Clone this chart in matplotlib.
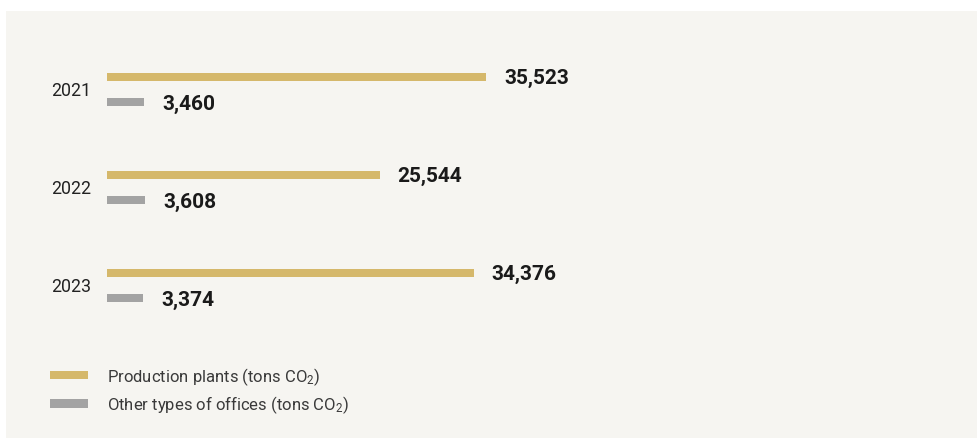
import matplotlib
matplotlib.use("Agg")
import matplotlib.pyplot as plt
from matplotlib.patches import Rectangle, Patch

years = ["2021", "2022", "2023"]
production = [35523, 25544, 34376]
offices = [3460, 3608, 3374]
legend_labels = ["Production plants (tons CO$_2$)", "Other types of offices (tons CO$_2$)"]

GOLD = "#d5b86b"
GRAY = "#a3a3a3"
BG = "#f6f5f1"

plt.rcParams["font.family"] = ["Roboto", "DejaVu Sans"]
plt.rcParams["mathtext.fontset"] = "custom"
plt.rcParams["mathtext.rm"] = "Roboto"
plt.rcParams["mathtext.default"] = "rm"

W, H = 978, 439
fig = plt.figure(figsize=(W / 100, H / 100), dpi=100)
fig.patch.set_facecolor("white")
fig.patches.append(Rectangle((6 / W, 0), 1 - 6 / W, 1 - 12 / H, transform=fig.transFigure,
                             facecolor=BG, edgecolor="none", zorder=-5))

x0 = 107
ax = fig.add_axes([x0 / W, 0, 1 - x0 / W, 1])
ax.set_zorder(2)
ax.set_facecolor("none")
scale = 379 / 35523  # px per unit
ax.set_xlim(0, (W - x0) / scale)
step = 98.0
c0 = 90.5
ax.set_ylim((H - c0) / step, -c0 / step)
ax.axis("off")

off = 12.2 / step
idx = list(range(len(years)))
ax.barh([i - off for i in idx], production, height=8 / step, color=GOLD, left=0)
ax.barh([i + off for i in idx], offices, height=8 / step, color=GRAY, left=0)

pad = 18 / scale
for i in idx:
    ax.text(production[i] + pad, i - off + 0.5 / step, f"{production[i]:,}", ha="left", va="center",
            fontsize=15, fontweight="bold", color="#1a1a1a")
    ax.text(offices[i] + pad, i + off + 1.5 / step, f"{offices[i]:,}", ha="left", va="center",
            fontsize=15, fontweight="bold", color="#1a1a1a")
    ax.text(-16 / scale, i + 0.5 / step, years[i], ha="right", va="center",
            fontsize=12.8, color="#222222")

handles = [Patch(facecolor=GOLD, edgecolor="none"), Patch(facecolor=GRAY, edgecolor="none")]
leg = fig.legend(handles, legend_labels, loc="upper left",
                 bbox_to_anchor=(50 / W, 1 - 366 / H), bbox_transform=fig.transFigure,
                 frameon=False, fontsize=12, handlelength=2.3, handleheight=0.42,
                 handletextpad=1.14, labelspacing=0.42, borderpad=0, borderaxespad=0)
leg.set_zorder(3)
for t in leg.get_texts():
    t.set_color("#3a3a3a")

fig.savefig("out.png", dpi=100, facecolor=fig.get_facecolor())
